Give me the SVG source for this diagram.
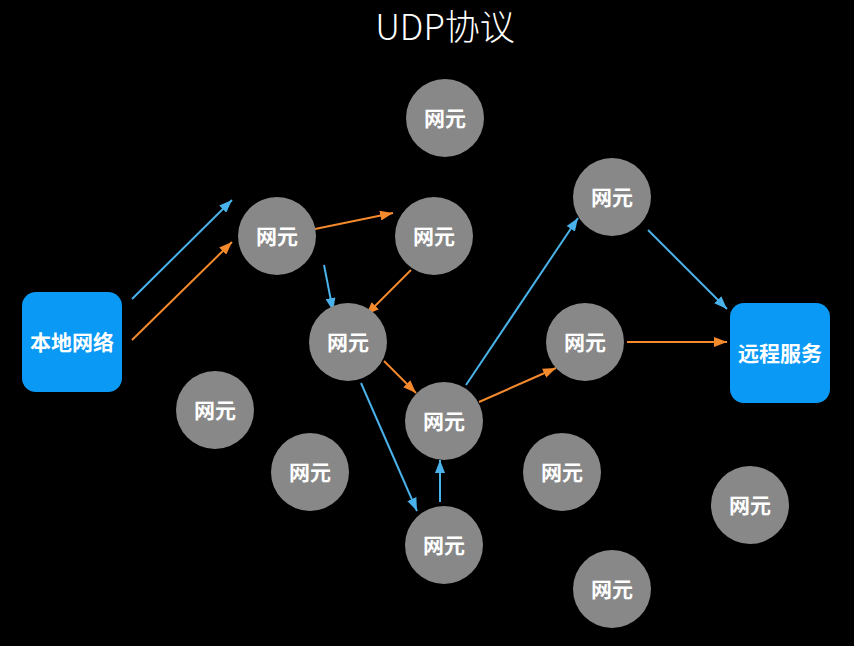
<svg xmlns="http://www.w3.org/2000/svg" width="854" height="646" viewBox="0 0 854 646">
<style>
.bg{fill:#000}
.node circle{fill:#888888}
.box rect{fill:#0A9AF6}
.lbl{fill:#fff;font-family:"Noto Sans CJK SC","Noto Sans",sans-serif;font-weight:700;font-size:21px;text-anchor:middle;dominant-baseline:central}
.title{fill:#fff;font-family:"Noto Sans CJK SC","Noto Sans",sans-serif;font-weight:300;font-size:35px;text-anchor:middle}
.b{stroke:#4AB2EA;stroke-width:2;fill:none;marker-end:url(#ab)}
.o{stroke:#F58A2C;stroke-width:2;fill:none;marker-end:url(#ao)}
</style>
<defs>
<marker id="ab" markerUnits="userSpaceOnUse" markerWidth="13" markerHeight="10" refX="13" refY="5" orient="auto"><path d="M0,0 L13,5 L0,10 z" fill="#4AB2EA"/></marker>
<marker id="ao" markerUnits="userSpaceOnUse" markerWidth="13" markerHeight="10" refX="13" refY="5" orient="auto"><path d="M0,0 L13,5 L0,10 z" fill="#F58A2C"/></marker>
</defs>
<rect class="bg" width="854" height="646"/>
<text class="title" x="445" y="40">UDP协议</text>
<g id="connectors">
<line class="b" x1="132" y1="299" x2="232" y2="200"/>
<line class="o" x1="132" y1="340" x2="232" y2="242"/>
<line class="o" x1="315" y1="229" x2="393" y2="213"/>
<line class="b" x1="324" y1="265" x2="333" y2="311"/>
<line class="o" x1="411" y1="270" x2="366" y2="315"/>
<line class="o" x1="384" y1="361" x2="416" y2="393"/>
<line class="b" x1="361" y1="383" x2="417" y2="511"/>
<line class="b" x1="440" y1="502" x2="440" y2="460"/>
<line class="b" x1="466" y1="385" x2="578" y2="218"/>
<line class="o" x1="479" y1="402" x2="556" y2="368"/>
<line class="b" x1="648" y1="230" x2="727" y2="309"/>
<line class="o" x1="627" y1="342" x2="727" y2="342"/>
</g>
<g id="local" class="box"><rect x="22" y="292" width="100" height="100" rx="14"/><text class="lbl" x="72" y="341">本地网络</text></g>
<g id="remote" class="box"><rect x="730" y="303" width="100" height="100" rx="14"/><text class="lbl" x="780" y="352">远程服务</text></g>
<g id="n0" class="node"><circle cx="445" cy="118" r="39"/><text class="lbl" x="445" y="117">网元</text></g>
<g id="n1" class="node"><circle cx="277" cy="236" r="39"/><text class="lbl" x="277" y="235">网元</text></g>
<g id="n2" class="node"><circle cx="434" cy="236" r="39"/><text class="lbl" x="434" y="235">网元</text></g>
<g id="n3" class="node"><circle cx="348" cy="342" r="39"/><text class="lbl" x="348" y="341">网元</text></g>
<g id="n4" class="node"><circle cx="444" cy="421" r="39"/><text class="lbl" x="444" y="420">网元</text></g>
<g id="n5" class="node"><circle cx="612" cy="197" r="39"/><text class="lbl" x="612" y="196">网元</text></g>
<g id="n6" class="node"><circle cx="585" cy="342" r="39"/><text class="lbl" x="585" y="341">网元</text></g>
<g id="n7" class="node"><circle cx="215" cy="410" r="39"/><text class="lbl" x="215" y="409">网元</text></g>
<g id="n8" class="node"><circle cx="310" cy="472" r="39"/><text class="lbl" x="310" y="471">网元</text></g>
<g id="n9" class="node"><circle cx="562" cy="472" r="39"/><text class="lbl" x="562" y="471">网元</text></g>
<g id="n10" class="node"><circle cx="444" cy="545" r="39"/><text class="lbl" x="444" y="544">网元</text></g>
<g id="n11" class="node"><circle cx="750" cy="505" r="39"/><text class="lbl" x="750" y="504">网元</text></g>
<g id="n12" class="node"><circle cx="612" cy="589" r="39"/><text class="lbl" x="612" y="588">网元</text></g>
</svg>
